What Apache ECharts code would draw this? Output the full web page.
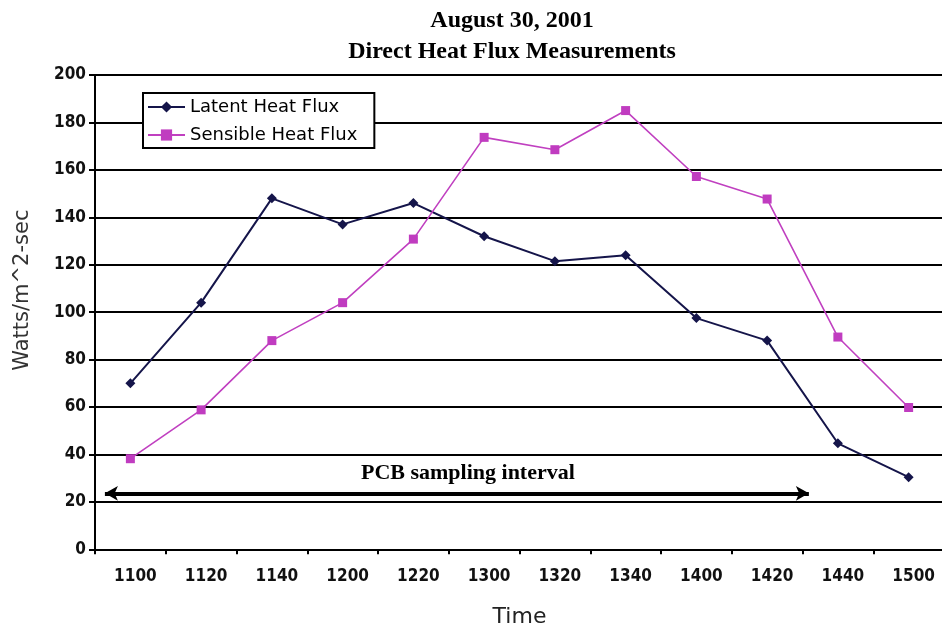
<!DOCTYPE html>
<html>
<head>
<meta charset="utf-8">
<script src="https://cdn.jsdelivr.net/npm/echarts@6/dist/echarts.min.js"></script>
<style>html,body{margin:0;padding:0;background:#fff}#c{width:942px;height:630px}</style>
</head>
<body>
<div id="c"></div>
<script>
const times = ['1100','1120','1140','1200','1220','1300','1320','1340','1400','1420','1440','1500'];
const latentHeatFlux = [70, 104, 148, 137, 146, 132, 121.5, 124, 97.5, 88, 44.7, 30.4];
const sensibleHeatFlux = [38.2, 58.8, 88, 104, 130.8, 173.7, 168.5, 185, 157.2, 147.7, 89.5, 59.8];
const yTicks = [0, 20, 40, 60, 80, 100, 120, 140, 160, 180, 200];
// PCB sampling interval (category-index units on x, flux units on y)
const pcbStart = -0.36;
const pcbEnd = 9.59;
const pcbLevel = 23.6;
const pcbLabel = 'PCB sampling interval';

const narrow = "'DejaVu Sans Condensed','Liberation Sans Narrow',sans-serif";
const serif = "'Liberation Serif','DejaVu Serif',serif";

const chart = echarts.init(document.getElementById('c'), null, {renderer: 'canvas'});
chart.setOption({
  backgroundColor: '#ffffff',
  animation: false,
  title: {
    text: 'August 30, 2001\nDirect Heat Flux Measurements',
    left: 512, top: 5, padding: 0, textAlign: 'center',
    textStyle: {fontFamily: serif, fontWeight: 'bold', fontSize: 24, lineHeight: 31, color: '#000'}
  },
  legend: {
    data: ['Latent Heat Flux', 'Sensible Heat Flux'],
    orient: 'vertical',
    left: 143, top: 93,
    padding: [5, 17, 4, 4],
    itemGap: 10,
    itemWidth: 37, itemHeight: 14,
    borderColor: '#000', borderWidth: 2,
    backgroundColor: '#fff',
    textStyle: {fontFamily: "'DejaVu Sans',sans-serif", fontSize: 18, lineHeight: 18, color: '#000'}
  },
  grid: {left: 95, top: 75, width: 849, height: 474.3, containLabel: false, outerBoundsMode: 'none'},
  xAxis: [{
    type: 'category', data: times, boundaryGap: true,
    name: 'Time', nameLocation: 'middle', nameGap: 57,
    nameTextStyle: {fontFamily: "'DejaVu Sans',sans-serif", fontSize: 22, color: '#222'},
    axisLine: {lineStyle: {color: '#000', width: 2}},
    axisTick: {show: true, length: 5, lineStyle: {color: '#000', width: 2}},
    axisLabel: {fontFamily: narrow, fontWeight: 'bold', fontSize: 17, color: '#111', margin: 19, padding: [0, 0, 0, 10]},
    splitLine: {show: false}
  }, {
    type: 'value', min: -0.5, max: 11.5, show: false
  }],
  yAxis: {
    type: 'value', min: yTicks[0], max: yTicks[yTicks.length - 1], interval: 20,
    name: 'Watts/m^2-sec', nameLocation: 'middle', nameGap: 62,
    nameTextStyle: {fontFamily: "'DejaVu Sans',sans-serif", fontSize: 21, color: '#333', padding: [0, 0, 0, 44]},
    axisLine: {show: true, onZero: false, lineStyle: {color: '#000', width: 2}},
    axisTick: {show: true, length: 6, lineStyle: {color: '#000', width: 2}},
    axisLabel: {fontFamily: narrow, fontWeight: 'bold', fontSize: 17, color: '#111', margin: 9},
    splitLine: {show: true, lineStyle: {color: '#000', width: 2}}
  },
  series: [{
    name: 'Latent Heat Flux', type: 'line', data: latentHeatFlux,
    symbol: 'diamond', symbolSize: 10,
    lineStyle: {color: '#15154a', width: 2},
    itemStyle: {color: '#15154a'}
  }, {
    name: 'Sensible Heat Flux', type: 'line', data: sensibleHeatFlux,
    symbol: 'rect', symbolSize: 9,
    lineStyle: {color: '#c040c0', width: 1.6},
    itemStyle: {color: '#c03cc0'}
  }, {
    name: 'pcb', type: 'line', xAxisIndex: 1, yAxisIndex: 0, data: [],
    markLine: {
      silent: true, animation: false,
      symbol: ['arrow', 'arrow'], symbolSize: [11, 13],
      lineStyle: {color: '#000', width: 4, type: 'solid'},
      label: {show: true, position: 'insideMiddleTop', distance: 9, formatter: pcbLabel,
        fontFamily: serif, fontWeight: 'bold', fontSize: 22, color: '#000', padding: [0, 0, 0, 22]},
      data: [[{coord: [pcbStart, pcbLevel]}, {coord: [pcbEnd, pcbLevel]}]]
    }
  }]
});
</script>
</body>
</html>
